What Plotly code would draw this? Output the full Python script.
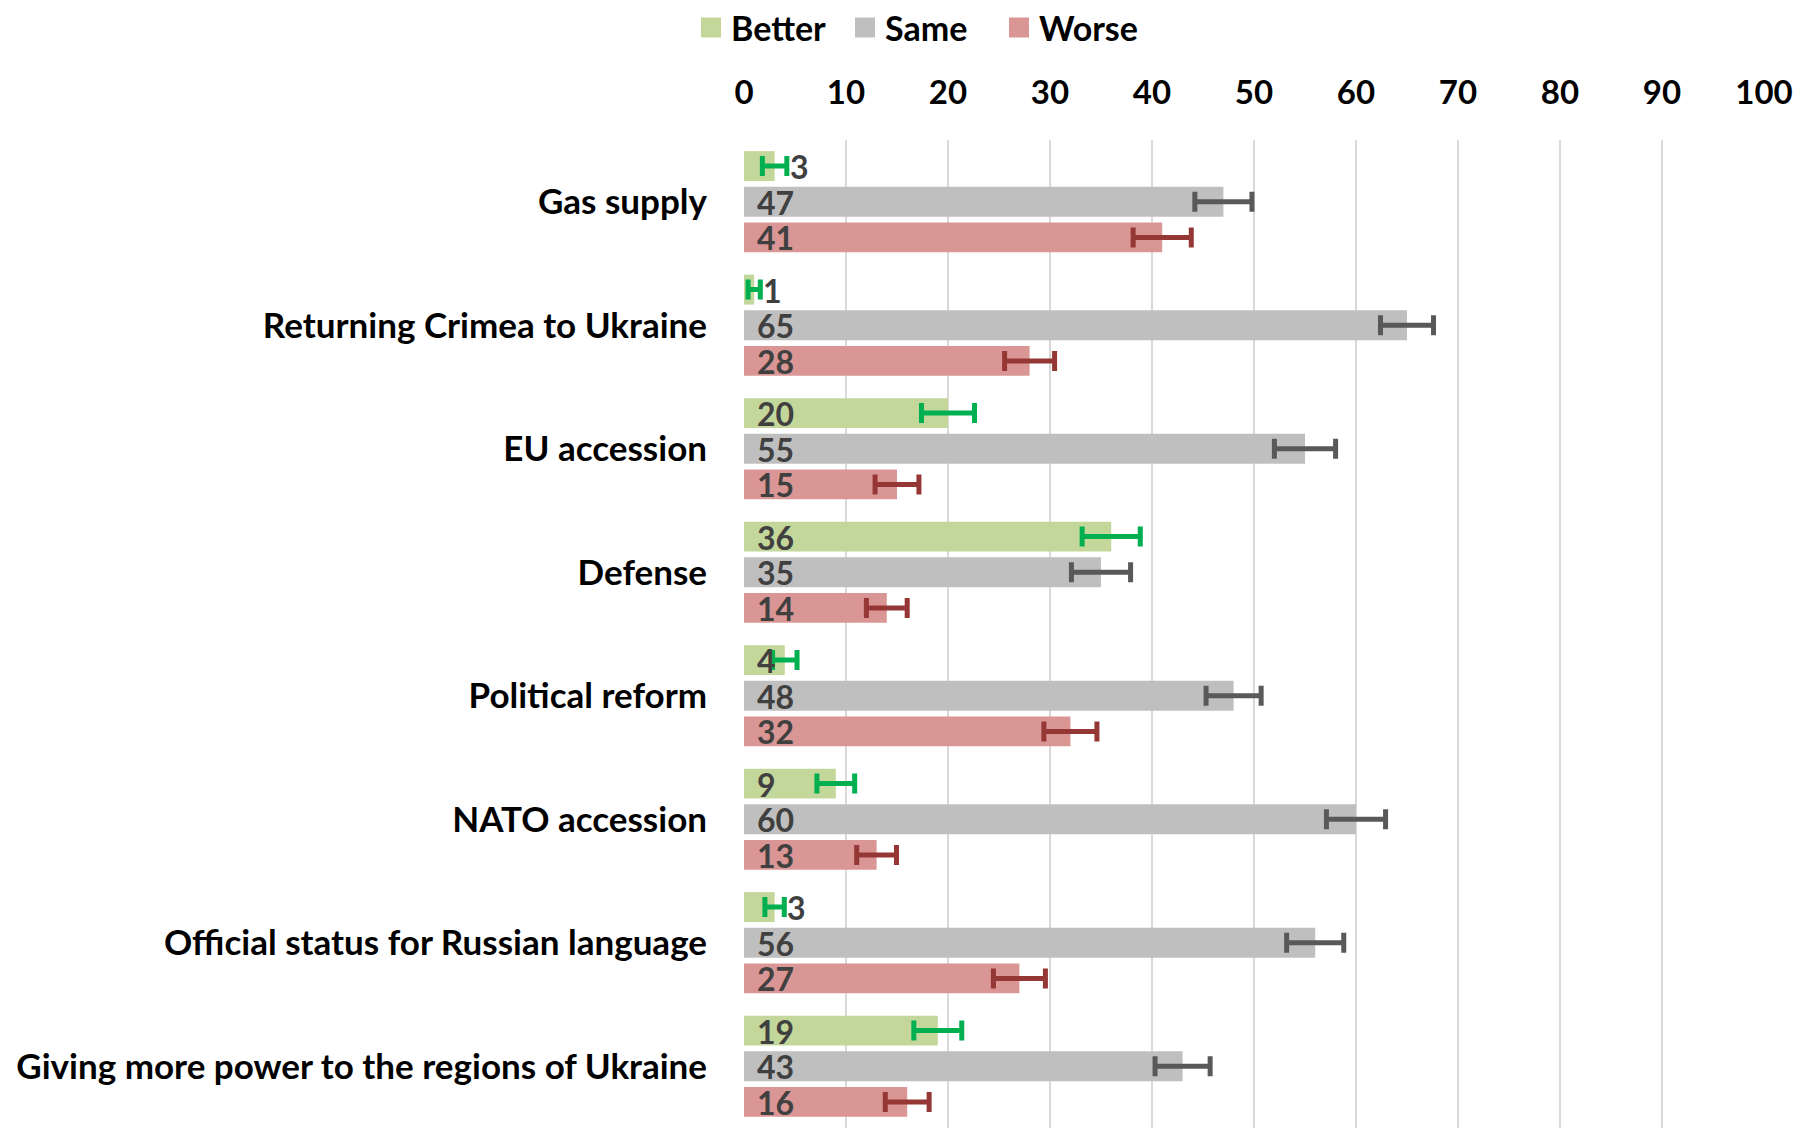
import plotly.graph_objects as go

categories = ["Gas supply", "Returning Crimea to Ukraine", "EU accession", "Defense",
              "Political reform", "NATO accession", "Official status for Russian language",
              "Giving more power to the regions of Ukraine"]
better = [3, 1, 20, 36, 4, 9, 3, 19]
same = [47, 65, 55, 35, 48, 60, 56, 43]
worse = [41, 28, 15, 14, 32, 13, 27, 16]
better_err = [1.2, 0.6, 2.6, 2.85, 1.2, 1.85, 0.95, 2.35]
same_err = [2.8, 2.6, 3.0, 2.9, 2.7, 2.9, 2.8, 2.7]
worse_err = [2.85, 2.45, 2.15, 2.0, 2.6, 1.95, 2.55, 2.15]
x_ticks = [0, 10, 20, 30, 40, 50, 60, 70, 80, 90, 100]

series = [
    ("Better", better, better_err, "#C4D79B", "#00B050"),
    ("Same", same, same_err, "#BFBFBF", "#595959"),
    ("Worse", worse, worse_err, "#DA9694", "#953735"),
]

FONT = "Lato"
W, H = 1796, 1120
ML, MR, MT, MB = 736, 40, 132, 0
BARGAP = 0.134
BARGROUPGAP = 0.16

fig = go.Figure()
for name, vals, errs, col, ecol in series:
    fig.add_trace(go.Bar(
        y=categories, x=vals, orientation="h", name=name, showlegend=False,
        marker=dict(color=col, line=dict(width=0)),
        error_x=dict(type="data", array=errs, visible=True, color=ecol,
                     thickness=5, width=10),
    ))
    fig.add_trace(go.Scatter(
        x=[None], y=[None], mode="markers", name=name,
        marker=dict(symbol="square", size=16, color=col, line=dict(color=col, width=4)),
    ))

plot_h = H - MT - MB
slot = plot_h / len(categories) * (1 - BARGAP) / 3
annotations = []
for k, (name, vals, errs, col, ecol) in enumerate(series):
    shift = (1 - k) * slot
    for c, v, e in zip(categories, vals, errs):
        common = dict(y=c, text=str(v), showarrow=False, yshift=shift, height=32,
                      borderpad=0, valign="middle",
                      font=dict(family=FONT, size=32, color="#404040", weight=700))
        if v < 4:
            annotations.append(dict(x=v + e, xanchor="left", xshift=2, **common))
        else:
            annotations.append(dict(x=0, xanchor="left", xshift=12, **common))

fig.update_layout(
    width=W, height=H,
    margin=dict(l=ML, r=MR, t=MT, b=MB, autoexpand=False),
    paper_bgcolor="white", plot_bgcolor="white",
    barmode="group", bargap=BARGAP, bargroupgap=BARGROUPGAP,
    font=dict(family=FONT, size=34, color="black", weight=700),
    legend=dict(orientation="h", x=(922 - 8 - ML) / (W - ML - MR), xanchor="center",
                y=1 + (MT - 20) / plot_h, yanchor="middle",
                font=dict(family=FONT, size=34, color="black", weight=700),
                itemwidth=30, tracegroupgap=0, entrywidth=109),
    annotations=annotations,
    xaxis=dict(side="top", range=[0, 100], tickvals=x_ticks, showgrid=True,
               gridcolor="#D9D9D9", gridwidth=2, zeroline=False, showline=False,
               ticklabelstandoff=28, fixedrange=True,
               tickfont=dict(family=FONT, size=33, color="black", weight=700)),
    yaxis=dict(autorange="reversed", showgrid=False, showline=False, zeroline=False,
               ticklabelstandoff=36,
               tickfont=dict(family=FONT, size=35, color="black", weight=700)),
)

fig.write_html("out.html")
